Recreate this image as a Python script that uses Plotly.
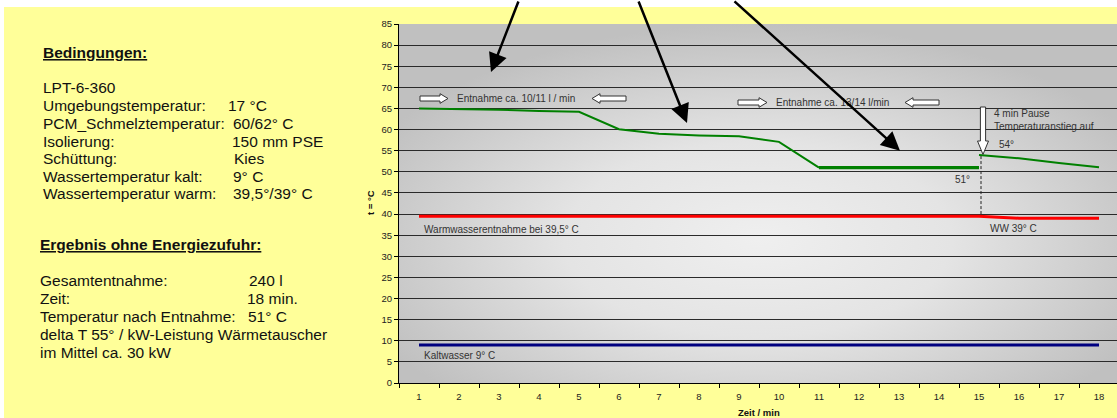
import base64
import plotly.graph_objects as go

# ---------------- data ----------------
minutes = list(range(1, 19))
tick_labels = [str(m) for m in minutes]

# storage temperature (green)
speicher_x1 = [1, 2, 3, 4, 5, 6, 7, 8, 9, 10, 11]
speicher_y1 = [65, 64.9, 64.7, 64.4, 64.2, 60.1, 59.0, 58.6, 58.4, 57.1, 51.0]
speicher_x2 = [11, 12, 13, 14, 15]
speicher_y2 = [51, 51, 51, 51, 51]
speicher_x3 = [15, 16, 17, 18]
speicher_y3 = [54.0, 53.2, 52.1, 51.1]

# warm water (red) and cold water (blue)
warm_y = [39.5] * 15 + [39.0, 39.0, 39.0]
kalt_y = [9.0] * 18

pause_minute = 15
pause_top = 54
pause_bottom = 40

# ---------------- geometry helpers ----------------
W, H = 1117, 418
PL, PR, PT, PB = 399, 1117, 24, 383
XMIN = 0.5
XMAX = XMIN + (PR - PL) / 40.0
YMIN, YMAX = 0, 85


def xd(px):
    return XMIN + (px - PL) * (XMAX - XMIN) / (PR - PL)


def yd(py):
    return YMIN + (PB - py) * (YMAX - YMIN) / (PB - PT)


def xp(px):
    return (px - PL) / (PR - PL)


def yp(py):
    return (PB - py) / (PB - PT)


FONT = "Liberation Sans, Arial, sans-serif"

fig = go.Figure()

fig.add_trace(go.Scatter(x=minutes, y=kalt_y, mode="lines",
                         line=dict(color="#000080", width=3), hoverinfo="skip"))
fig.add_trace(go.Scatter(x=minutes, y=warm_y, mode="lines",
                         line=dict(color="#ff0000", width=3), hoverinfo="skip"))
fig.add_trace(go.Scatter(x=speicher_x1, y=speicher_y1, mode="lines",
                         line=dict(color="#008000", width=2), hoverinfo="skip"))
fig.add_trace(go.Scatter(x=speicher_x2, y=speicher_y2, mode="lines",
                         line=dict(color="#008000", width=3.2), hoverinfo="skip"))
fig.add_trace(go.Scatter(x=speicher_x3, y=speicher_y3, mode="lines",
                         line=dict(color="#008000", width=2), hoverinfo="skip"))

shapes = []
# yellow background (with white strip at top / left)
shapes.append(dict(type="rect", xref="paper", yref="paper", layer="below",
                   x0=xp(4), x1=xp(W + 5), y0=yp(H + 5), y1=yp(7),
                   fillcolor="#FFFF99", line=dict(width=0)))

# dashed vertical line at pause
shapes.append(dict(type="line", xref="x", yref="y", x0=pause_minute + 0.05, x1=pause_minute + 0.05,
                   y0=pause_bottom, y1=pause_top, line=dict(color="#222", width=1, dash="3px,2px")))


def h_block_arrow(tip_px, tail_px, cy_px, shaft=2.5, head=4.8, headlen=8):
    d = 1 if tail_px < tip_px else -1
    hb = tip_px - d * headlen
    pts = [(tail_px, cy_px - shaft), (hb, cy_px - shaft), (hb, cy_px - head), (tip_px, cy_px),
           (hb, cy_px + head), (hb, cy_px + shaft), (tail_px, cy_px + shaft)]
    path = "M " + " L ".join(f"{xd(a):.4f},{yd(b):.4f}" for a, b in pts) + " Z"
    return dict(type="path", xref="x", yref="y", path=path, fillcolor="white",
                line=dict(color="#333", width=1), layer="above")


def v_block_arrow(cx_px, top_px, headstart_px, tip_px, shaft=2.6, head=5.5):
    pts = [(cx_px - shaft, top_px), (cx_px + shaft, top_px), (cx_px + shaft, headstart_px),
           (cx_px + head, headstart_px), (cx_px, tip_px), (cx_px - head, headstart_px),
           (cx_px - shaft, headstart_px)]
    path = "M " + " L ".join(f"{xd(a):.4f},{yd(b):.4f}" for a, b in pts) + " Z"
    return dict(type="path", xref="x", yref="y", path=path, fillcolor="white",
                line=dict(color="#333", width=1), layer="above")


shapes.append(h_block_arrow(448, 420, 98.5))
shapes.append(h_block_arrow(592, 626, 98.5))
shapes.append(h_block_arrow(767, 738, 102.5))
shapes.append(h_block_arrow(905, 939, 102.5))
shapes.append(v_block_arrow(983, 107, 141, 154.5))

# ---------------- annotations ----------------
ann = []


def txt(text, x, y, size=10, color="#333", xanchor="left", xref="x", yref="y", **kw):
    ann.append(dict(text=text, x=x, y=y, xref=xref, yref=yref, showarrow=False,
                    xanchor=xanchor, yanchor="middle",
                    font=dict(family=FONT, size=size, color=color), **kw))


# chart texts
txt("Entnahme ca. 10/11 l / min", xd(455), yd(98))
txt("Entnahme ca. 13/14 l/min", xd(774), yd(102.5))
txt("Warmwasserentnahme bei 39,5° C", xd(422), yd(229))
txt("Kaltwasser 9° C", xd(422), yd(355))
txt("51°", xd(962), yd(179.3), xanchor="center")
txt("54°", xd(997), yd(144.3))
txt("WW 39° C", xd(988), yd(228))
txt("4 min Pause", xd(992), yd(113.7))
txt("Temperaturanstieg auf", xd(992), yd(126.7))

# black pointer arrows coming from above
for tx, ty, ax, ay in [(491, 72, 28, -80), (687, 123, -49, -131), (900, 150.7, -167, -157)]:
    ann.append(dict(text="", x=xd(tx), y=yd(ty), xref="x", yref="y", showarrow=True,
                    ax=ax, ay=ay, arrowhead=2, arrowsize=1.5, arrowwidth=2.5,
                    arrowcolor="black", standoff=0))

# axis titles
txt("<b>t = °C</b>", xp(370), yp(203), size=9.5, color="#111", xanchor="center",
    xref="paper", yref="paper", textangle=-90)
txt("<b>Zeit / min</b>", xp(759), yp(412.5), size=9.5, color="#111", xanchor="center",
    xref="paper", yref="paper")

# left info panel
LS = 15.5
left_rows = [
    ("<b><u>Bedingungen:</u></b>", 41, 52, None, None),
    ("LPT-6-360", 41, 87.3, None, None),
    ("Umgebungstemperatur:", 41, 105.5, "17 °C", 226),
    ("PCM_Schmelztemperatur:", 41, 123.2, "60/62° C", 231),
    ("Isolierung:", 41, 141, "150 mm PSE", 230),
    ("Schüttung:", 41, 158.7, "Kies", 232),
    ("Wassertemperatur kalt:", 41, 176.3, "9° C", 231),
    ("Wassertemperatur warm:", 41, 194, "39,5°/39° C", 231),
    ("<b><u>Ergebnis ohne Energiezufuhr:</u></b>", 37.5, 244.5, None, None),
    ("Gesamtentnahme:", 37.5, 280, "240 l", 247),
    ("Zeit:", 37.5, 298, "18 min.", 245),
    ("Temperatur nach Entnahme:", 37.5, 316, "51° C", 246),
    ("delta T 55° / kW-Leistung Wärmetauscher", 37.5, 334, None, None),
    ("im Mittel ca. 30 kW", 37.5, 352, None, None),
]
for label, lx, ly, val, vx in left_rows:
    txt(label, xp(lx), yp(ly), size=LS, color="#111", xref="paper", yref="paper")
    if val is not None:
        txt(val, xp(vx), yp(ly), size=LS, color="#111", xref="paper", yref="paper")

# ---------------- background gradient image ----------------
svg = (
    "<svg xmlns='http://www.w3.org/2000/svg' width='718' height='359' viewBox='0 0 718 359' "
    "preserveAspectRatio='none'><defs><radialGradient id='g' cx='0.5' cy='0.6' r='0.6'>"
    "<stop offset='0' stop-color='#efefef'/><stop offset='0.45' stop-color='#e4e4e4'/>"
    "<stop offset='1' stop-color='#c0c0c0'/></radialGradient></defs>"
    "<rect width='718' height='359' fill='url(#g)'/></svg>"
)
src = "data:image/svg+xml;base64," + base64.b64encode(svg.encode()).decode()

fig.update_layout(
    width=W, height=H,
    margin=dict(l=PL, r=W - PR, t=PT, b=H - PB, pad=0),
    paper_bgcolor="white",
    plot_bgcolor="rgba(0,0,0,0)",
    showlegend=False,
    shapes=shapes,
    annotations=ann,
    images=[dict(source=src, xref="x", yref="y", x=XMIN, y=YMAX, sizex=XMAX - XMIN,
                 sizey=YMAX - YMIN, sizing="stretch", layer="below",
                 xanchor="left", yanchor="top")],
    xaxis=dict(range=[XMIN, XMAX], tickvals=minutes, ticktext=tick_labels,
               ticks="", showgrid=False, zeroline=False,
               showline=True, linecolor="black", linewidth=1,
               ticklabelstandoff=5,
               tickfont=dict(family=FONT, size=9.5, color="#222"),
               minor=dict(tick0=0.5, dtick=1, ticks="outside", ticklen=4,
                          tickcolor="black", showgrid=False),
               fixedrange=True),
    yaxis=dict(range=[YMIN, YMAX], dtick=5, tick0=0, ticks="outside", ticklen=4,
               tickcolor="black", showline=True, linecolor="black", linewidth=1,
               showgrid=True, gridcolor="#2a2a2a", gridwidth=1, zeroline=False,
               tickfont=dict(family=FONT, size=9.5, color="#222"),
               fixedrange=True),
)

fig.write_html(
    "out.html",
    config={"displayModeBar": False},
    post_script="document.body.style.margin='0px';document.body.style.overflow='hidden';",
)
